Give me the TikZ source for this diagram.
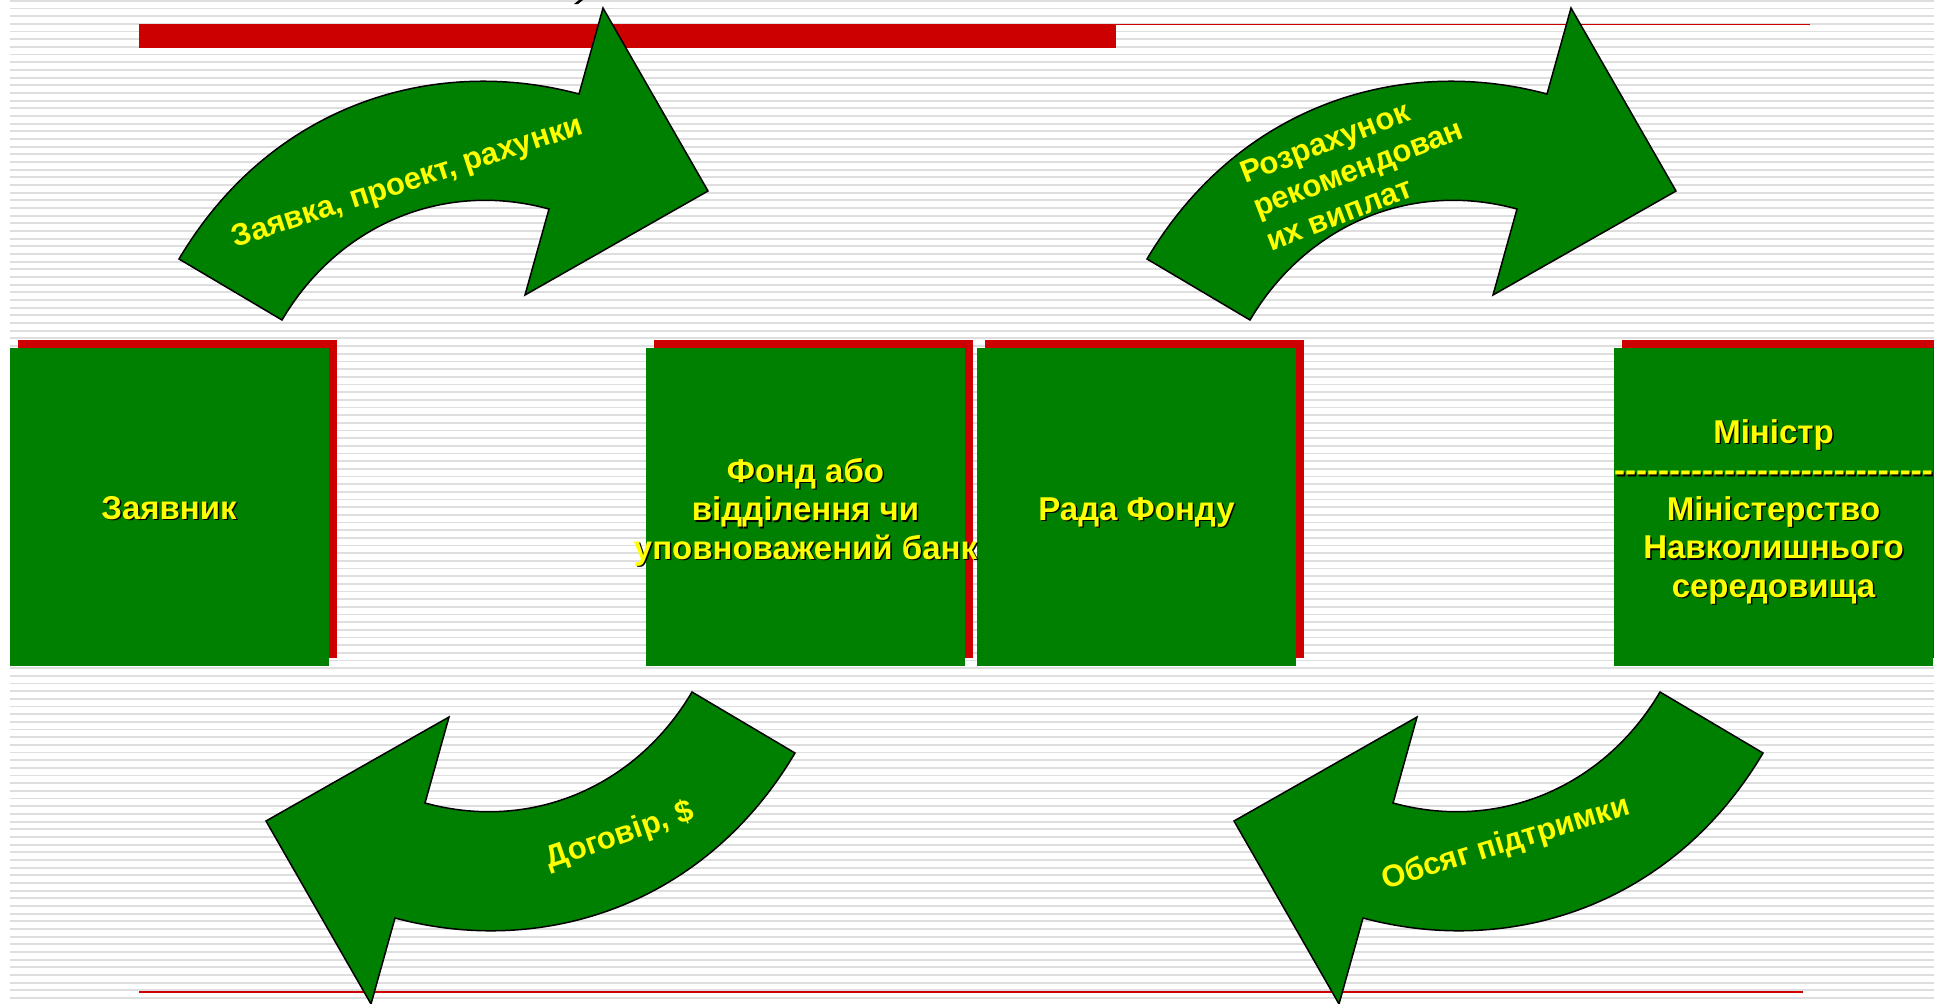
\documentclass[tikz,border=0pt]{standalone}
\usepackage{fontspec}
\setmainfont{Liberation Sans}
\definecolor{pgreen}{RGB}{0,128,0}
\definecolor{pred}{RGB}{204,0,0}
\definecolor{pyellow}{RGB}{255,255,0}
\definecolor{stripecol}{RGB}{222,222,222}
\newcommand\boxfont{\bfseries\fontsize{16.5}{19.25}\selectfont}
\newcommand\arrfont{\bfseries\fontsize{15.5}{18}\selectfont}
\newcommand\hy{\hbox{-}}
\newcommand\hyline{\hy\hy\hy\hy\hy\hy\hy\hy\hy\hy\hy\hy\hy\hy\hy\hy\hy\hy\hy\hy\hy\hy\hy\hy\hy\hy\hy\hy\hy}
\newcommand\arrowpath{(179,259) .. controls (271,104) and (434,55) .. (579,94) -- (603,8) -- (708,191) -- (525,295) -- (549,209) .. controls (443,180) and (338,225) .. (282,320) -- cycle}
\begin{document}
\begin{tikzpicture}[x=0.5pt,y=-0.5pt,
  greenbox/.style={fill=pgreen},
  redbox/.style={fill=pred},
  arrowshape/.style={fill=pgreen,draw=black,line width=0.75pt,line join=miter},
  btext/.style={font=\boxfont,text=pyellow,align=center,inner sep=0pt},
  bshadow/.style={font=\boxfont,text=black,align=center,inner sep=0pt},
  atext/.style={font=\arrfont,text=pyellow,inner sep=0pt},
]
\useasboundingbox (0,0) rectangle (1934,1003);
\fill[white] (0,0) rectangle (1934,1003);
\foreach \k in {0,...,130} \fill[stripecol] (10,{\k*7.67}) rectangle (1934,{\k*7.67+1.8});

% title fragment
\fill[black] (574,4) -- (578,4) -- (583,0) -- (579,0) -- cycle;

% red rules
\fill[pred] (139,23.5) rectangle (1116,47.5);
\fill[pred] (1116,23.5) rectangle (1810,25.3);
\fill[pred] (139,991) rectangle (1803,992.6);

% boxes
\foreach \bx in {10,646,977,1614}{
  \fill[redbox] (\bx+8,340) rectangle (\bx+327,658);
  \fill[greenbox] (\bx,348) rectangle (\bx+319,666);
}

% box texts
\node[bshadow] (t1s) at (170.5,509.5) {Заявник};
\node[btext] (t1) at (169,508) {Заявник};
\node[bshadow] (t2s) at (807,513.5) {Фонд або\\відділення чи\\уповноважений банк};
\node[btext] (t2) at (805.5,512) {Фонд або\\відділення чи\\уповноважений банк};
\node[bshadow] (t3s) at (1138,513.5) {Рада Фонду};
\node[btext] (t3) at (1136.5,512) {Рада Фонду};
\node[bshadow] (t4s) at (1775,513) {Міністр\\\hyline\\Міністерство\\Навколишнього\\середовища};
\node[btext] (t4) at (1773.5,511.5) {Міністр\\\hyline\\Міністерство\\Навколишнього\\середовища};

% arrows
\draw[arrowshape] \arrowpath;
\begin{scope}[shift={(968,0)}]
  \draw[arrowshape] \arrowpath;
\end{scope}
\begin{scope}[rotate around={180:(487,506)}]
  \draw[arrowshape] \arrowpath;
\end{scope}
\begin{scope}[rotate around={180:(971,506)}]
  \draw[arrowshape] \arrowpath;
\end{scope}

% arrow texts
\node[atext,rotate=18] (a1) at (408,183) {Заявка, проект, рахунки};
\node[atext,rotate=21,align=left] (a2) at (1358,168) {Розрахунок\\рекомендован\\их виплат};
\node[atext,rotate=19] (a3) at (620,836) {Договір, \$};
\node[atext,rotate=17] (a4) at (1506,844) {Обсяг підтримки};
\end{tikzpicture}
\end{document}
